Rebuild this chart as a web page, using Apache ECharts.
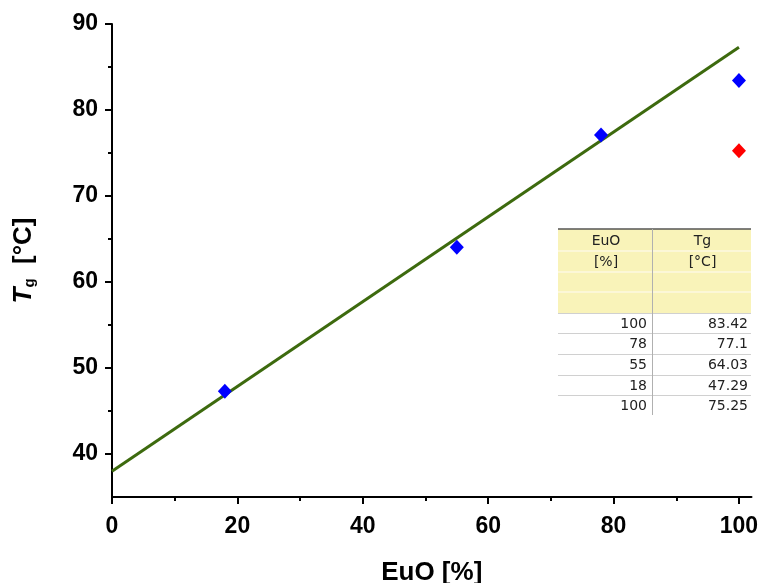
<!DOCTYPE html>
<html>
<head>
<meta charset="utf-8">
<script src="https://cdn.jsdelivr.net/npm/echarts@6/dist/echarts.min.js"></script>
<style>html,body{margin:0;padding:0;background:#fff}#c{width:763px;height:583px}</style>
</head>
<body>
<div id="c"></div>
<script>
// ---- data ----
const euoBlue = [100, 78, 55, 18];
const tgBlue = [83.42, 77.1, 64.03, 47.29];
const euoRed = [100];
const tgRed = [75.25];
const fitX = [0, 100];
const fitY = [38.0, 87.3];
const xMajorTicks = [0, 20, 40, 60, 80, 100];
const xMinorTicks = [10, 30, 50, 70, 90];
const yMajorTicks = [40, 50, 60, 70, 80, 90];
const yMinorTicks = [45, 55, 65, 75, 85];
const tableHeader1 = ['EuO', 'Tg'];
const tableHeader2 = ['[%]', '[°C]'];
const tableEuO = [100, 78, 55, 18, 100];
const tableTg = ['83.42', '77.1', '64.03', '47.29', '75.25'];

const chart = echarts.init(document.getElementById('c'));
const FONT = 'Liberation Sans, Arial, sans-serif';
const TFONT = '"DejaVu Sans", Verdana, sans-serif';

// table graphic
const tL = 558, tM = 652, tR = 751;
const rowY = [229, 251, 272, 292, 313, 333, 354, 375, 395, 415];
const g = [];
g.push({type:'rect', shape:{x:tL, y:rowY[0], width:tR-tL, height:rowY[4]-rowY[0]}, style:{fill:'#f9f3b9'}, silent:true});
for (let i = 1; i < 4; i++) {
  g.push({type:'line', shape:{x1:tL, y1:rowY[i], x2:tR, y2:rowY[i]}, style:{stroke:'#fcf9e2', lineWidth:1.5}});
}
g.push({type:'line', shape:{x1:tL, y1:rowY[0], x2:tR, y2:rowY[0]}, style:{stroke:'#555', lineWidth:1.5}});
for (let i = 4; i < 9; i++) {
  g.push({type:'line', shape:{x1:tL, y1:rowY[i]+0.5, x2:tR, y2:rowY[i]+0.5}, style:{stroke:'#d0d0d0', lineWidth:1}});
}
g.push({type:'line', shape:{x1:tM+0.5, y1:rowY[0], x2:tM+0.5, y2:rowY[9]}, style:{stroke:'#b0b0b0', lineWidth:1}});
const cx1 = (tL + tM) / 2 + 1, cx2 = (tM + tR) / 2 + 1;
const txtStyle = (text, x, y, align) => ({type:'text', x:x, y:y, style:{text:String(text), fill:'#222', font:'14px ' + TFONT, textAlign:align, textVerticalAlign:'middle'}});
g.push(txtStyle(tableHeader1[0], cx1, (rowY[0]+rowY[1])/2+1, 'center'));
g.push(txtStyle(tableHeader1[1], cx2, (rowY[0]+rowY[1])/2+1, 'center'));
g.push(txtStyle(tableHeader2[0], cx1, (rowY[1]+rowY[2])/2+1, 'center'));
g.push(txtStyle(tableHeader2[1], cx2, (rowY[1]+rowY[2])/2+1, 'center'));
for (let i = 0; i < tableEuO.length; i++) {
  const y = (rowY[4+i] + rowY[5+i]) / 2 + 1;
  g.push(txtStyle(tableEuO[i], tM - 5, y, 'right'));
  g.push(txtStyle(tableTg[i], tR - 3, y, 'right'));
}

const axisLabelStyle = {fontFamily: FONT, fontWeight: 'bold', fontSize: 23, color: '#000'};

chart.setOption({
  animation: false,
  backgroundColor: '#fff',
  grid: {left: 112, right: 11.5, top: 24, bottom: 86, containLabel: false, outerBoundsMode: 'none'},
  xAxis: [{
    type: 'value', min: 0, max: 102,
    splitLine: {show: false},
    axisLine: {show: true, onZero: false, lineStyle: {color: '#000', width: 2}},
    axisTick: {show: true, customValues: xMajorTicks, length: 7, lineStyle: {color: '#000', width: 2}},
    axisLabel: Object.assign({customValues: xMajorTicks, margin: 18}, axisLabelStyle),
    name: 'EuO [%]', nameLocation: 'middle', nameGap: 63,
    nameTextStyle: {fontFamily: FONT, fontWeight: 'bold', fontSize: 26, color: '#000'}
  }, {
    type: 'value', min: 0, max: 102, position: 'bottom',
    splitLine: {show: false},
    axisLine: {show: false},
    axisTick: {show: true, customValues: xMinorTicks, length: 4, lineStyle: {color: '#000', width: 2}},
    axisLabel: {show: false}
  }],
  yAxis: [{
    type: 'value', min: 35, max: 90,
    splitLine: {show: false},
    axisLine: {show: true, onZero: false, lineStyle: {color: '#000', width: 2}},
    axisTick: {show: true, customValues: yMajorTicks, length: 7, lineStyle: {color: '#000', width: 2}},
    axisLabel: Object.assign({customValues: yMajorTicks, margin: 14}, axisLabelStyle),
    name: '{i|T}{s|g}{n|  [°C]}', nameLocation: 'middle', nameGap: 75, nameRotate: 90,
    nameTextStyle: {
      rich: {
        i: {fontFamily: FONT, fontWeight: 'bold', fontStyle: 'italic', fontSize: 26, color: '#000'},
        s: {fontFamily: FONT, fontWeight: 'bold', fontSize: 15, color: '#000', verticalAlign: 'bottom', padding: [12, 0, 0, 0]},
        n: {fontFamily: FONT, fontWeight: 'bold', fontSize: 26, color: '#000'}
      }
    }
  }, {
    type: 'value', min: 35, max: 90, position: 'left',
    splitLine: {show: false},
    axisLine: {show: false},
    axisTick: {show: true, customValues: yMinorTicks, length: 4, lineStyle: {color: '#000', width: 2}},
    axisLabel: {show: false}
  }],
  series: [{
    type: 'line', data: fitX.map((x, i) => [x, fitY[i]]),
    showSymbol: false, symbol: 'none',
    lineStyle: {color: '#3d6a0e', width: 3}, z: 2
  }, {
    type: 'scatter', data: euoBlue.map((x, i) => [x, tgBlue[i]]),
    symbol: 'diamond', symbolSize: [14, 15], itemStyle: {color: '#0000ff', opacity: 1}, z: 3
  }, {
    type: 'scatter', data: euoRed.map((x, i) => [x, tgRed[i]]),
    symbol: 'diamond', symbolSize: [14, 15], itemStyle: {color: '#ff0000', opacity: 1}, z: 3
  }],
  graphic: g
});
</script>
</body>
</html>
